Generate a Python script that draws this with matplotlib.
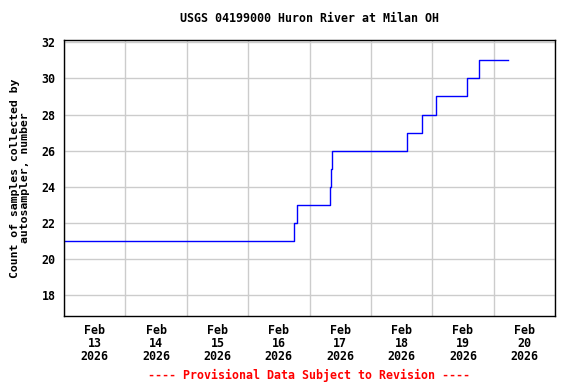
import matplotlib
matplotlib.use("Agg")
import matplotlib.pyplot as plt
import matplotlib.dates as mdates
import pandas as pd

# Data: times of count changes and values (step series)
times = pd.to_datetime([
    "2026-02-13 00:00", "2026-02-16 18:07", "2026-02-16 18:55",
    "2026-02-17 07:50", "2026-02-17 08:14", "2026-02-17 08:53",
    "2026-02-18 14:02", "2026-02-18 20:05", "2026-02-19 01:30",
    "2026-02-19 13:25", "2026-02-19 18:10", "2026-02-20 05:48",
])
values = [21, 22, 23, 24, 25, 26, 27, 28, 29, 30, 31, 31]

title = "USGS 04199000 Huron River at Milan OH"
ylabel = "Count of samples collected by\nautosampler, number"
footer = "---- Provisional Data Subject to Revision ----"
yticks = [18, 20, 22, 24, 26, 28, 30, 32]

font = {"family": "DejaVu Sans Mono", "weight": "bold", "size": 8.4}

fig = plt.figure(figsize=(5.76, 3.84), dpi=100)
ax = fig.add_axes([64/576, 1-316/384, (555-64)/576, (316-40)/384])

ax.plot(times, values, drawstyle="steps-post", color="#0000ff", lw=1.0)

ax.set_xlim(pd.Timestamp("2026-02-13"), pd.Timestamp("2026-02-21"))
ax.set_ylim(16.83, 32.13)
ax.set_yticks(yticks)
ax.set_yticklabels([str(v) for v in yticks], fontdict=font)

ax.xaxis.set_major_locator(mdates.DayLocator())
ax.xaxis.set_major_formatter(plt.NullFormatter())
ax.xaxis.set_minor_locator(mdates.HourLocator(byhour=[12]))
ax.xaxis.set_minor_formatter(mdates.DateFormatter("%b\n%d\n%Y"))
ax.tick_params(axis="x", which="both", length=0, pad=6)
ax.tick_params(axis="y", length=0, pad=6)
fig.canvas.draw()
for lbl in ax.get_xticklabels(minor=True):
    lbl.set_fontfamily("DejaVu Sans Mono")
    lbl.set_fontweight("bold")
    lbl.set_fontsize(8.4)
    lbl.set_linespacing(1.0)

ax.grid(True, which="major", color="#cccccc", lw=1.0)
ax.set_axisbelow(True)
for s in ax.spines.values():
    s.set_color("black")
    s.set_linewidth(1.0)

fig.text(309.5/576, 1-19/384, title, ha="center", va="center", **font)
fig.text(19.8/576, 1-178/384, ylabel, ha="center", va="center", rotation=90,
         linespacing=1.0, family="DejaVu Sans Mono", weight="bold", size=8.25)
fig.text(309.5/576, 1-375/384, footer, ha="center", va="center", color="red", **font)

fig.savefig("out.png", dpi=100)
